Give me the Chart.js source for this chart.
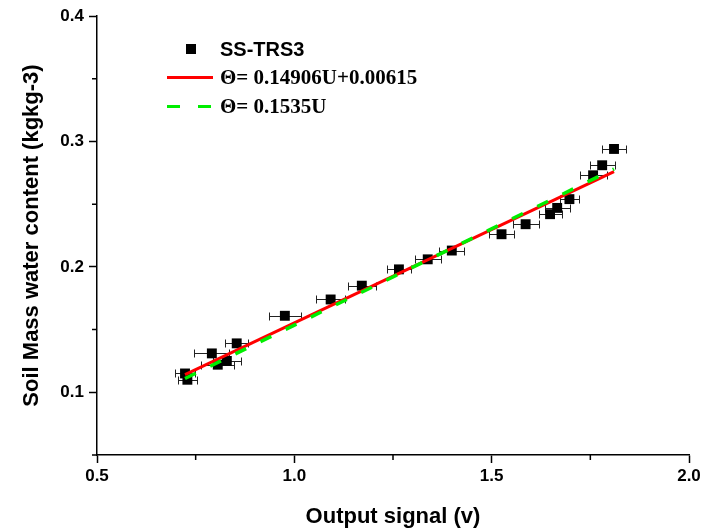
<!DOCTYPE html>
<html>
<head>
<meta charset="utf-8">
<script src="https://cdn.jsdelivr.net/npm/chart.js@4/dist/chart.umd.min.js"></script>
<style>
  html, body { margin: 0; padding: 0; background: #fff; }
</style>
</head>
<body>
<canvas id="waterChart" width="714" height="532"></canvas>
<script>
const signalX = [0.723, 0.729, 0.791, 0.806, 0.829, 0.854, 0.976, 1.092, 1.171, 1.265, 1.338, 1.399, 1.525, 1.586, 1.648, 1.666, 1.697, 1.757, 1.780, 1.810];
const waterY = [0.115, 0.110, 0.131, 0.122, 0.125, 0.139, 0.161, 0.174, 0.185, 0.198, 0.206, 0.213, 0.226, 0.234, 0.242, 0.247, 0.254, 0.273, 0.281, 0.294];
const signalErr = [0.025, 0.025, 0.044, 0.042, 0.036, 0.029, 0.041, 0.036, 0.035, 0.031, 0.033, 0.032, 0.031, 0.033, 0.029, 0.032, 0.025, 0.034, 0.032, 0.030];

const fitX = [0.723, 1.81];
const fitRedY = [0.114, 0.276];
const fitGreenY = [0.111, 0.278];

const xTicks = [0.5, 1.0, 1.5, 2.0];
const xMinorTicks = [0.75, 1.25, 1.75];
const yTicks = [0.1, 0.2, 0.3, 0.4];
const yMinorTicks = [0.05, 0.15, 0.25, 0.35];

const sans = "'Liberation Sans', Arial, sans-serif";
const serif = "'Liberation Serif', 'Times New Roman', serif";

const toPoints = (xs, ys) => xs.map((v, i) => ({ x: v, y: ys[i] }));

// horizontal error bars, drawn under the markers
const errorBars = {
  id: "errorBars",
  beforeDatasetsDraw(chart) {
    const { ctx, scales: { x, y } } = chart;
    ctx.save();
    ctx.strokeStyle = "#222";
    ctx.lineWidth = 1;
    signalX.forEach((sx, i) => {
      const py = Math.round(y.getPixelForValue(waterY[i])) + 0.5;
      const x0 = Math.round(x.getPixelForValue(sx - signalErr[i])) + 0.5;
      const x1 = Math.round(x.getPixelForValue(sx + signalErr[i])) + 0.5;
      ctx.beginPath();
      ctx.moveTo(x0, py);
      ctx.lineTo(x1, py);
      ctx.moveTo(x0, py - 4);
      ctx.lineTo(x0, py + 4);
      ctx.moveTo(x1, py - 4);
      ctx.lineTo(x1, py + 4);
      ctx.stroke();
    });
    ctx.restore();
  },
};

const minorTicks = {
  id: "minorTicks",
  afterDraw(chart) {
    const { ctx, scales: { x, y } } = chart;
    ctx.save();
    ctx.strokeStyle = "#000";
    ctx.lineWidth = 1.5;
    ctx.beginPath();
    xMinorTicks.forEach((v) => {
      const px = x.getPixelForValue(v);
      ctx.moveTo(px, y.bottom);
      ctx.lineTo(px, y.bottom + 5);
    });
    yMinorTicks.forEach((v) => {
      const py = y.getPixelForValue(v);
      ctx.moveTo(x.left, py);
      ctx.lineTo(x.left - 5, py);
    });
    ctx.stroke();
    ctx.restore();
  },
};

const plotLegend = {
  id: "plotLegend",
  afterDraw(chart) {
    const ctx = chart.ctx;
    const ds = chart.data.datasets;
    ctx.save();
    // marker entry
    ctx.fillStyle = "#000";
    ctx.fillRect(186, 44, 10, 10);
    ctx.font = "bold 20px " + sans;
    ctx.textBaseline = "alphabetic";
    ctx.fillText(ds[0].label, 220, 56);
    // red fit
    ctx.strokeStyle = ds[1].borderColor;
    ctx.lineWidth = 3;
    ctx.beginPath();
    ctx.moveTo(167, 77.5);
    ctx.lineTo(213, 77.5);
    ctx.stroke();
    ctx.font = "bold 21px " + serif;
    ctx.fillText(ds[1].label, 220, 84);
    // green fit
    ctx.strokeStyle = ds[2].borderColor;
    ctx.setLineDash([13, 18]);
    ctx.beginPath();
    ctx.moveTo(167, 106.5);
    ctx.lineTo(213, 106.5);
    ctx.stroke();
    ctx.setLineDash([]);
    ctx.fillText(ds[2].label, 220, 113);
    ctx.restore();
  },
};

new Chart(document.getElementById("waterChart").getContext("2d"), {
  type: "scatter",
  data: {
    datasets: [
      {
        label: "SS-TRS3",
        data: toPoints(signalX, waterY),
        pointStyle: "rect",
        pointRadius: 7,
        pointHoverRadius: 7,
        backgroundColor: "#000",
        borderColor: "#000",
        borderWidth: 0,
        order: 3,
      },
      {
        type: "line",
        label: "Θ= 0.14906U+0.00615",
        data: toPoints(fitX, fitRedY),
        borderColor: "#ff0000",
        borderWidth: 3,
        pointRadius: 0,
        fill: false,
        order: 2,
      },
      {
        type: "line",
        label: "Θ= 0.1535U",
        data: toPoints(fitX, fitGreenY),
        borderColor: "#00ee00",
        borderWidth: 3.5,
        borderDash: [12, 16],
        pointRadius: 0,
        fill: false,
        order: 1,
      },
    ],
  },
  options: {
    responsive: false,
    animation: false,
    devicePixelRatio: 1,
    layout: { padding: { left: 15, right: 25, top: 16, bottom: 2 } },
    plugins: { legend: { display: false }, tooltip: { enabled: false } },
    scales: {
      x: {
        type: "linear",
        min: 0.5,
        max: 2.0,
        afterBuildTicks: (s) => { s.ticks = xTicks.map((v) => ({ value: v })); },
        afterFit: (s) => { s.height = 75; },
        ticks: {
          callback: (v) => Number(v).toFixed(1),
          color: "#000",
          padding: 3,
          font: { family: sans, size: 17, weight: "bold" },
        },
        grid: { drawOnChartArea: false, tickLength: 8, tickColor: "#000", tickWidth: 1.5 },
        border: { color: "#000", width: 1.5 },
        title: {
          display: true,
          text: "Output signal (v)",
          color: "#000",
          padding: { top: 0, bottom: 0 },
          font: { family: sans, size: 22, weight: "bold" },
        },
      },
      y: {
        type: "linear",
        min: 0.05,
        max: 0.4,
        afterBuildTicks: (s) => { s.ticks = yTicks.map((v) => ({ value: v })); },
        afterFit: (s) => { s.width = 82; },
        ticks: {
          callback: (v) => Number(v).toFixed(1),
          color: "#000",
          padding: 5,
          font: { family: sans, size: 17, weight: "bold" },
        },
        grid: { drawOnChartArea: false, tickLength: 8, tickColor: "#000", tickWidth: 1.5 },
        border: { color: "#000", width: 1.5 },
        title: {
          display: true,
          text: "Soil Mass water content (kgkg-3)",
          color: "#000",
          padding: { top: 4, bottom: 0 },
          font: { family: sans, size: 22, weight: "bold" },
        },
      },
    },
  },
  plugins: [errorBars, minorTicks, plotLegend],
});
</script>
</body>
</html>
